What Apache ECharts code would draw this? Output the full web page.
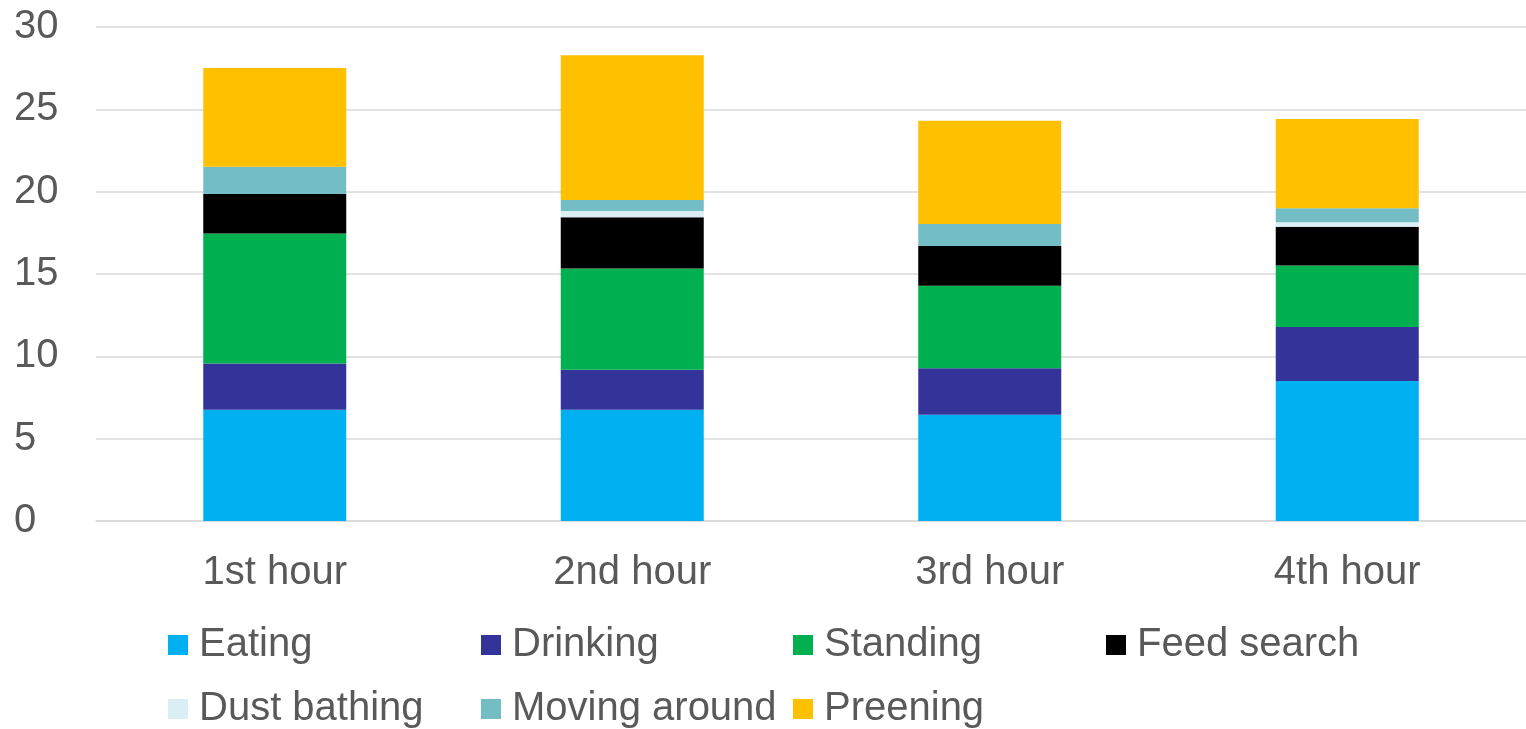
<!DOCTYPE html>
<html>
<head>
<meta charset="utf-8">
<script src="https://cdn.jsdelivr.net/npm/echarts@6/dist/echarts.min.js"></script>
<style>
  html, body { margin: 0; padding: 0; background: #fff; }
  #chart { width: 1526px; height: 729px; }
</style>
</head>
<body>
<div id="chart"></div>
<script>
// categories and tick labels
const hours = ["1st hour", "2nd hour", "3rd hour", "4th hour"];
const yTicks = [0, 5, 10, 15, 20, 25, 30];

// series values
const eating = [6.76, 6.76, 6.46, 8.5];
const drinking = [2.8, 2.43, 2.81, 3.28];
const standing = [7.9, 6.15, 5.02, 3.74];
const feedSearch = [2.4, 3.1, 2.41, 2.35];
const dustBathing = [0, 0.38, 0, 0.28];
const movingAround = [1.65, 0.67, 1.33, 0.85];
const preening = [6.0, 8.79, 6.28, 5.41];

const seriesNames = ["Eating", "Drinking", "Standing", "Feed search", "Dust bathing", "Moving around", "Preening"];
const seriesData = [eating, drinking, standing, feedSearch, dustBathing, movingAround, preening];
const colors = ["#00B0F0", "#333399", "#00B050", "#000000", "#DAEEF3", "#72BEC4", "#FFC000"];

const textColor = "#595959";
const font = "'Liberation Sans', Arial, sans-serif";

// legend grid like excel: 4 columns, 2 rows
const legendCols = [168, 481, 793, 1106];
const legendRows = [644, 708];

const mychart = echarts.init(document.getElementById("chart"));

const legends = seriesNames.map(function (name, i) {
  return {
    data: [name],
    left: legendCols[i % 4],
    top: legendRows[Math.floor(i / 4)] - 20,
    padding: 0,
    itemWidth: 20,
    itemHeight: 20,
    itemGap: 0,
    icon: "rect",
    selectedMode: false,
    textStyle: {
      color: textColor,
      fontSize: 40,
      fontFamily: font,
      lineHeight: 40,
      padding: [2, 0, 0, 6],
    },
  };
});

mychart.setOption({
  animation: false,
  color: colors,
  legend: legends,
  grid: {
    left: 96,
    right: -3,
    top: 27,
    bottom: 208,
  },
  xAxis: {
    type: "category",
    data: hours,
    axisLine: { lineStyle: { color: "#d9d9d9", width: 1.5 } },
    axisTick: { show: false },
    axisLabel: {
      color: textColor,
      fontSize: 40,
      fontFamily: font,
      margin: 32,
    },
  },
  yAxis: {
    type: "value",
    min: yTicks[0],
    max: yTicks[yTicks.length - 1],
    interval: 5,
    axisLine: { show: false },
    axisTick: { show: false },
    splitLine: { lineStyle: { color: "#d9d9d9", width: 1.5 } },
    axisLabel: {
      color: textColor,
      fontSize: 40,
      fontFamily: font,
      align: "left",
      margin: 82,
    },
  },
  series: seriesNames.map(function (name, i) {
    return {
      name: name,
      type: "bar",
      stack: "total",
      barWidth: "40%",
      data: seriesData[i],
      itemStyle: { color: colors[i] },
    };
  }),
});
</script>
</body>
</html>
